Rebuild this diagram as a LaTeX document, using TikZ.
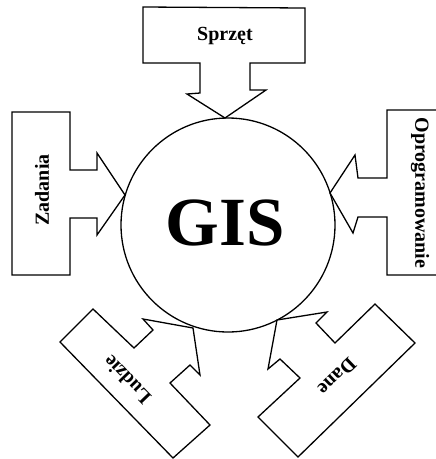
\documentclass[tikz,border=0pt]{standalone}
\usepackage{fontspec}
\setmainfont{Liberation Serif}
\begin{document}
\begin{tikzpicture}[x=1pt,y=-1pt,
  outline/.style={draw=black,line width=1.3pt,line join=miter,fill=white},
  lbl/.style={font=\fontsize{20}{22}\selectfont\bfseries,inner sep=0pt}]
\useasboundingbox (0,0) rectangle (436,459);
\clip (0,0) rectangle (436,459);
% circle
\node[circle,draw=black,line width=1.3pt,minimum size=214pt,inner sep=0pt] (gis) at (228,225) {};
\node[font=\fontsize{69}{72}\selectfont\bfseries,inner sep=0pt,anchor=base] (gist) at (225,245) {GIS};
% Sprzet (top)
\draw[outline] (143,7) -- (305,8) -- (305,63) -- (250,63) -- (250,90) -- (266,90)
  -- (225,118) -- (187,94) -- (200,93) -- (200,63) -- (143,63) -- cycle;
\node[lbl] (sprzet) at (225,36) {Sprzęt};
% Zadania (left)
\draw[outline] (12,112) -- (70,112) -- (70,170) -- (97,170) -- (97,153)
  -- (125,195) -- (97,235) -- (97,218) -- (70,218) -- (70,275) -- (12,275) -- cycle;
\node[lbl,rotate=90] (zadania) at (42,190) {Zadania};
% Oprogramowanie (right)
\draw[outline] (450,110) -- (387,110) -- (387,178) -- (358,178) -- (355,155)
  -- (330,193) -- (353,233) -- (358,217) -- (387,217) -- (387,275) -- (450,275) -- cycle;
\node[lbl,rotate=-90] (oprog) at (420,193) {Oprogramowanie};
% Ludzie (bottom left)
\draw[outline] (93,309) -- (60,342) -- (173,458) -- (210,425) -- (170,383) -- (190,365)
  -- (200,375) -- (193,328) -- (143,319) -- (153,330) -- (134,348) -- cycle;
\node[lbl,rotate=134] (ludzie) at (127,380) {Ludzie};
% Dane (bottom right)
\draw[outline] (375,304) -- (415,343) -- (298,457) -- (258,417) -- (300,378) -- (280,359)
  -- (268,369) -- (277,320) -- (327,312) -- (316,323) -- (335,343) -- cycle;
\node[lbl,rotate=-136] (dane) at (337,377) {Dane};
\end{tikzpicture}
\end{document}
